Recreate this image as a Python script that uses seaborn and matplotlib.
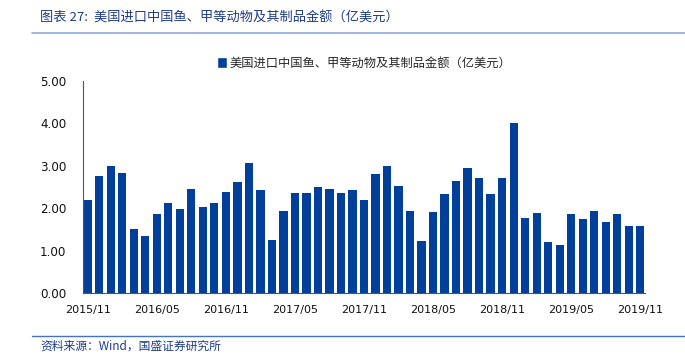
import matplotlib
matplotlib.use("Agg")
import matplotlib.pyplot as plt
import seaborn as sns
import pandas as pd
from matplotlib.lines import Line2D
from matplotlib.patches import Patch

months = []
y, m = 2015, 11
for _ in range(49):
    months.append(f"{y}/{m:02d}")
    m += 1
    if m > 12:
        m = 1
        y += 1

values = [2.20, 2.76, 2.99, 2.84, 1.50, 1.35, 1.87, 2.13, 1.98, 2.46,
          2.02, 2.13, 2.39, 2.62, 3.07, 2.44, 1.26, 1.94, 2.35, 2.35,
          2.50, 2.46, 2.36, 2.43, 2.20, 2.80, 3.00, 2.53, 1.94, 1.23,
          1.91, 2.34, 2.65, 2.94, 2.72, 2.34, 2.72, 4.01, 1.76, 1.89,
          1.20, 1.13, 1.86, 1.74, 1.94, 1.67, 1.86, 1.57, 1.59]

series_name = "美国进口中国鱼、甲等动物及其制品金额（亿美元）"
title_text = "图表 27:  美国进口中国鱼、甲等动物及其制品金额（亿美元）"
source_text = "资料来源：Wind，国盛证券研究所"
yticks = [0, 1, 2, 3, 4, 5]

sns.set_theme(style="white")
plt.rcParams['font.family'] = ['Noto Sans CJK SC', 'DejaVu Sans']

df = pd.DataFrame({"month": months, "value": values})

bar_color = "#00409A"
fig = plt.figure(figsize=(6.85, 3.6), dpi=100)
ax = fig.add_axes([83/685, 1-293/360, (645-83)/685, (293-81)/360])
sns.barplot(data=df, x="month", y="value", color=bar_color, width=0.7,
            saturation=1, linewidth=0, ax=ax)

ax.set_xlim(-0.43, 48.43)
ax.set_ylim(0, 5)
ax.set_yticks(yticks)
ax.set_yticklabels([f"{v:.2f}" for v in yticks], fontsize=8.6, family='DejaVu Sans')
xt = list(range(0, 49, 6))
ax.set_xticks(xt)
ax.set_xticklabels([months[i] for i in xt], fontsize=8.0, family='DejaVu Sans')
ax.set_xlabel("")
ax.set_ylabel("")
for s in ["top", "right"]:
    ax.spines[s].set_visible(False)
for s in ["left", "bottom"]:
    ax.spines[s].set_color("#555555")
    ax.spines[s].set_linewidth(0.8)
ax.tick_params(axis="both", direction="in", length=3, width=0.6, color="#888888",
               labelcolor="#111111")
ax.tick_params(axis="y", pad=12)
ax.tick_params(axis="x", pad=9)

leg = ax.legend(handles=[Patch(facecolor=bar_color, label=series_name)],
                loc="lower center", bbox_to_anchor=(0.5, 1.03), frameon=False,
                fontsize=8.8, handlelength=0.8, handleheight=0.9, handletextpad=0.2,
                borderaxespad=0)

title_color = "#1F3C88"
fig.text(40/685, 1-18/360, title_text, fontsize=9.5, color=title_color,
         va="center", ha="left", style="italic")
fig.add_artist(Line2D([32/685, 1], [1-33/360, 1-33/360], color="#8FAADC", lw=1.2))
fig.add_artist(Line2D([32/685, 1], [1-336/360, 1-336/360], color="#4472C4", lw=1.0))
fig.text(40/685, 1-346/360, source_text, fontsize=8.5, color=title_color,
         va="center", ha="left", style="italic")

fig.savefig("out.png", dpi=100)
